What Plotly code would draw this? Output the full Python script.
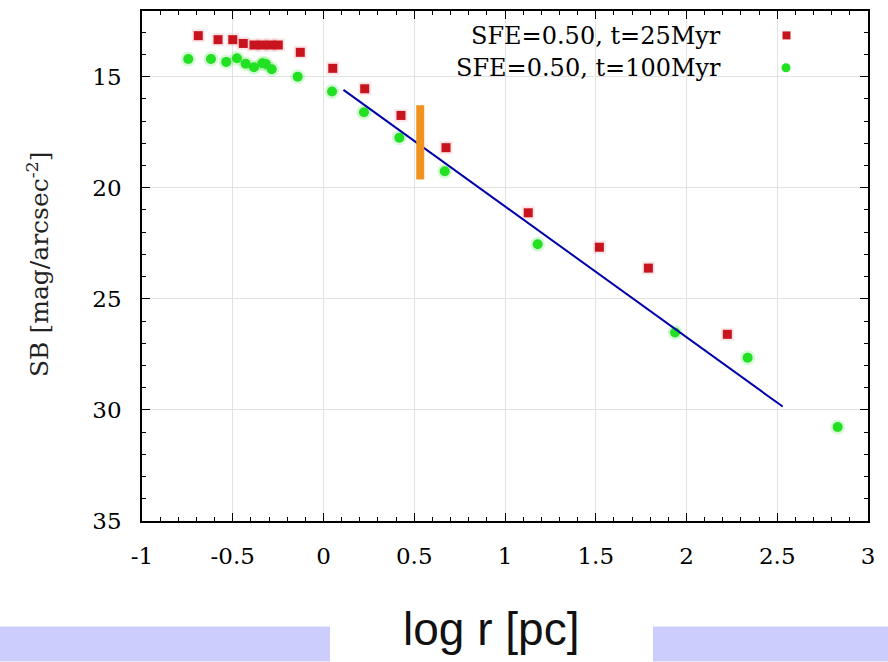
import plotly.graph_objects as go

# ---- data ----
red_x = [-0.690, -0.581, -0.500, -0.442, -0.383, -0.337, -0.291, -0.249, -0.128, 0.051,
         0.227, 0.427, 0.675, 1.128, 1.520, 1.790, 2.225]
red_y = [13.16, 13.34, 13.34, 13.51, 13.58, 13.58, 13.58, 13.58, 13.91, 14.63,
         15.55, 16.75, 18.20, 21.13, 22.68, 23.62, 26.60]

green_x = [-0.745, -0.620, -0.536, -0.477, -0.429, -0.383, -0.337, -0.318, -0.285, -0.142,
           0.047, 0.223, 0.418, 0.668, 1.180, 1.937, 2.337, 2.833]
green_y = [14.21, 14.21, 14.34, 14.18, 14.42, 14.58, 14.40, 14.43, 14.67, 15.01,
           15.67, 16.61, 17.75, 19.26, 22.55, 26.52, 27.65, 30.77]

fit_x = [0.11, 2.53]
fit_y = [15.60, 29.85]

bar_x = [0.533, 0.533]
bar_y = [16.29, 19.63]

x_ticks = [-1, -0.5, 0, 0.5, 1, 1.5, 2, 2.5, 3]
x_ticklabels = ["-1", "-0.5", "0", "0.5", "1", "1.5", "2", "2.5", "3"]
y_ticks = [15, 20, 25, 30, 35]

legend_labels = ["SFE=0.50, t=25Myr", "SFE=0.50, t=100Myr"]

RED = "#c8141e"
GREEN = "#22e022"
SERIF = "DejaVu Serif"

fig = go.Figure()

# soft halo under markers
fig.add_trace(go.Scatter(x=green_x, y=green_y, mode="markers",
                         marker=dict(symbol="circle", size=15, color=GREEN, opacity=0.18,
                                     line=dict(width=0)),
                         hoverinfo="skip", showlegend=False))
fig.add_trace(go.Scatter(x=red_x, y=red_y, mode="markers",
                         marker=dict(symbol="square", size=13, color="#e05060", opacity=0.15,
                                     line=dict(width=0)),
                         hoverinfo="skip", showlegend=False))
fig.add_trace(go.Scatter(x=red_x, y=red_y, mode="markers", name=legend_labels[0],
                         marker=dict(symbol="square", size=9, color=RED, line=dict(width=0)),
                         showlegend=False))
fig.add_trace(go.Scatter(x=green_x, y=green_y, mode="markers", name=legend_labels[1],
                         marker=dict(symbol="circle", size=10, color=GREEN, line=dict(width=0)),
                         showlegend=False))
fig.add_trace(go.Scatter(x=fit_x, y=fit_y, mode="lines",
                         line=dict(color="#0000aa", width=2), showlegend=False))
fig.add_trace(go.Scatter(x=bar_x, y=bar_y, mode="lines",
                         line=dict(color="#f0921e", width=8), showlegend=False))

L, R, T, B = 142, 20, 9, 141
W, H = 888, 662
pw, ph = W - L - R, H - T - B


def px_x(p):
    return (p - L) / pw


def px_y(p):
    return (H - B - p) / ph


axis_common = dict(
    showline=True, linecolor="black", linewidth=1.5, mirror="allticks",
    ticks="inside", ticklen=8, tickwidth=1, tickcolor="black",
    showgrid=True, gridcolor="#e2e2e2", gridwidth=1,
    zeroline=False,
    tickfont=dict(family=SERIF, size=23, color="black"),
    ticklabelstandoff=14,
)

fig.update_xaxes(range=[-1, 3], tickvals=x_ticks, ticktext=x_ticklabels,
                 minor=dict(dtick=0.1, ticks="inside", ticklen=4, tickcolor="black",
                            showgrid=False),
                 **axis_common)
fig.update_yaxes(range=[35, 12.05], tickvals=y_ticks,
                 minor=dict(dtick=1, ticks="inside", ticklen=4, tickcolor="black",
                            showgrid=False),
                 **axis_common)

annotations = [
    dict(text="SB [mag/arcsec<sup>-2</sup>]", textangle=-90, xref="paper", yref="paper",
         x=px_x(38), y=px_y(263), xanchor="center", yanchor="middle", showarrow=False,
         font=dict(family=SERIF, size=25, color="#222")),
    dict(text="log r [pc]", xref="paper", yref="paper", x=px_x(491), y=px_y(629),
         xanchor="center", yanchor="middle", showarrow=False,
         font=dict(family="Liberation Sans", size=46, color="#111")),
    dict(text=legend_labels[0], xref="paper", yref="paper", x=px_x(723), y=px_y(34),
         xanchor="right", yanchor="middle", showarrow=False,
         font=dict(family=SERIF, size=24, color="black")),
    dict(text=legend_labels[1], xref="paper", yref="paper", x=px_x(723), y=px_y(66),
         xanchor="right", yanchor="middle", showarrow=False,
         font=dict(family=SERIF, size=24, color="black")),
]

shapes = [
    dict(type="rect", xref="paper", yref="paper", x0=px_x(0), x1=px_x(330),
         y0=px_y(627), y1=px_y(662), fillcolor="#cdcdfd", line=dict(width=0), layer="below"),
    dict(type="rect", xref="paper", yref="paper", x0=px_x(653), x1=px_x(888),
         y0=px_y(627), y1=px_y(662), fillcolor="#cdcdfd", line=dict(width=0), layer="below"),
    dict(type="rect", xref="paper", yref="paper", xsizemode="pixel", ysizemode="pixel",
         xanchor=px_x(786.5), yanchor=px_y(33.5), x0=-4, x1=4, y0=-4, y1=4,
         fillcolor=RED, line=dict(width=0)),
    dict(type="circle", xref="paper", yref="paper", xsizemode="pixel", ysizemode="pixel",
         xanchor=px_x(786), yanchor=px_y(66), x0=-4.5, x1=4.5, y0=-4.5, y1=4.5,
         fillcolor=GREEN, line=dict(width=0)),
]

fig.update_layout(
    width=W, height=H,
    margin=dict(l=L, r=R, t=T, b=B, pad=0),
    paper_bgcolor="white", plot_bgcolor="white",
    annotations=annotations, shapes=shapes,
    showlegend=False,
)

fig.write_html("out.html")
